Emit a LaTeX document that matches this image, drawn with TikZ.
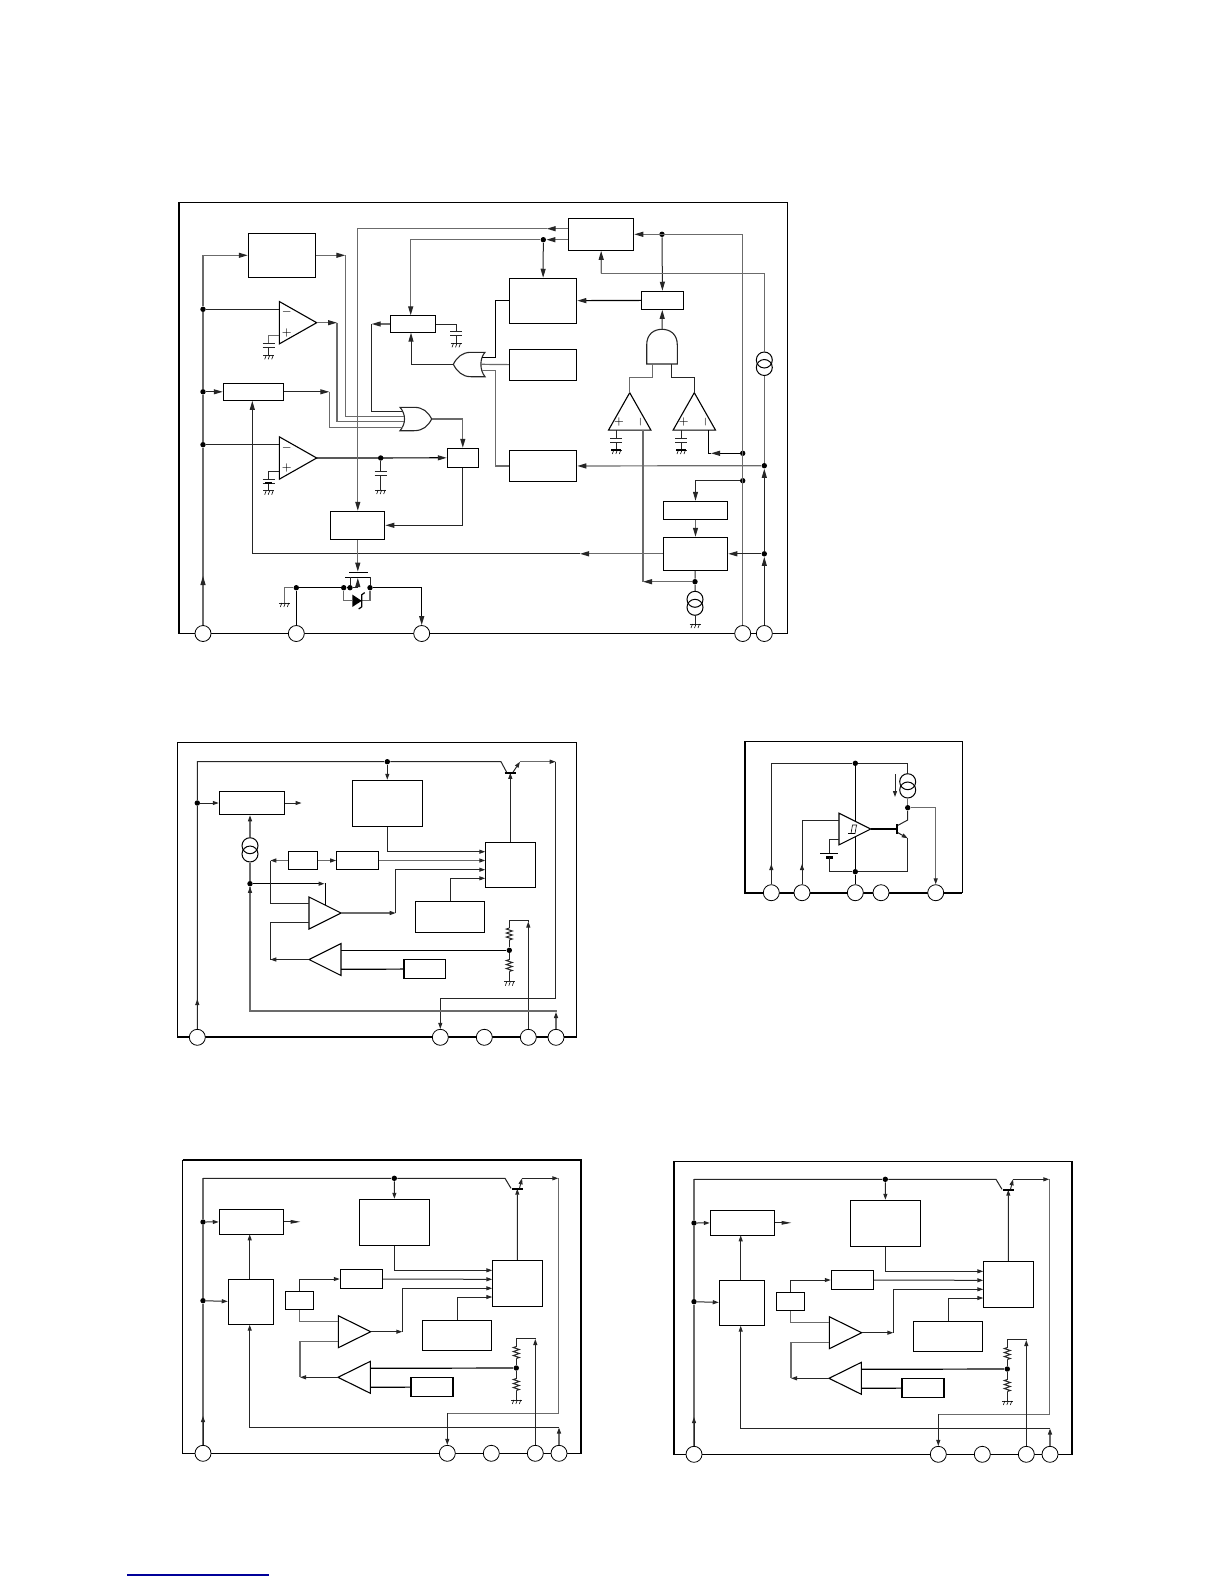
\documentclass[tikz,border=0pt]{standalone}
\usepackage{amsmath}
\usetikzlibrary{arrows.meta, shapes.geometric}
\tikzset{
  >={Stealth[length=4.5pt,width=2.5pt,inset=0pt,color=black!85]},
  smallar/.style={>={Stealth[length=3pt,width=2pt,inset=0pt,color=black!85]}},
  wire/.style={line width=.5pt, draw=black!85},
  wireg/.style={line width=.6pt, draw=black!58},
  wireb/.style={line width=.6pt, draw=black},
  frame/.style={line width=.65pt, draw=black},
  frameb/.style={line width=1pt, draw=black},
  blk/.style 2 args={draw, line width=.55pt, inner sep=0pt, minimum width=#1*.5pt, minimum height=#2*.5pt},
  padc/.style={draw, circle, fill=white, line width=.4pt, inner sep=0pt, minimum size=8pt},
  jn/.style={circle, fill=black, inner sep=0pt, minimum size=2.7pt},
  srcc/.style={draw, circle, line width=.5pt, inner sep=0pt, minimum size=8pt},
  amp/.style 2 args={draw, line width=.55pt, isosceles triangle, isosceles triangle stretches, inner sep=0pt, outer sep=0pt, anchor=apex, minimum width=#1*.5pt, minimum height=#2*.5pt},
  gatel/.style={line width=.55pt, draw=black!85},
  sgn/.style={font=\tiny, inner sep=0pt},
  gnd/.pic={\draw[wire] (-5.5,0) -- (5.5,0);
    \draw[line width=.3pt] (4.5,0) -- (3,4) (1,0) -- (-.5,4) (-2.5,0) -- (-4,4);},
  pics/capg/.style={code={\draw[wire] (-6,0) -- (6,0) (-6,4) -- (6,4) (0,4) -- (0,#1);
    \pic at (0,#1) {gnd};}},
  res/.pic={\draw[wire] (0,0) -- (-3,1) -- (3,3) -- (-3,5) -- (3,7) -- (-3,9) -- (3,11) -- (0,12);},
}
% the two panels at the bottom are the same circuit
\newcommand{\regpanel}[2]{
  \begin{scope}[shift={(#2)}, smallar]
    \draw[frame] (182.7,1160.3) rectangle (581,1453.3);
    \node[blk={70.4}{46}] (bx#1a) at (394.5,1222.3) {};
    \node[blk={64.4}{25}] (bx#1b) at (251.5,1221.8) {};
    \node[blk={45.4}{45.4}] (bx#1c) at (251,1302) {};
    \node[blk={28.4}{18.4}] (bx#1d) at (299.5,1300.5) {};
    \node[blk={42}{18.6}] (bx#1e) at (361.3,1279) {};
    \node[blk={50.4}{46.4}] (bx#1f) at (517.5,1283.5) {};
    \node[blk={69.4}{30}] (bx#1g) at (457,1335.3) {};
    \node[blk={42}{18.6}] (bx#1h) at (432,1387) {};
    \node[padc] (pd#1a) at (203,1453.3) {};
    \node[padc] (pd#1b) at (447.3,1453.3) {};
    \node[padc] (pd#1c) at (491.3,1453.3) {};
    \node[padc] (pd#1d) at (535.3,1453.3) {};
    \node[padc] (pd#1e) at (559,1453.3) {};
    \node[jn] (jn#1a) at (394.3,1178.3) {};
    \node[jn] (jn#1b) at (203,1222) {};
    \node[jn] (jn#1c) at (203,1300.7) {};
    \node[jn] (jn#1d) at (516.3,1368) {};
    \node[amp={32}{32.4}] (amp#1a) at (370.7,1331.7) {};
    \node[amp={32}{32.4}, shape border rotate=180] (amp#1b) at (338,1377.3) {};
    \coordinate (tr#1) at (517.3,1188.7);
    \coordinate (em#1) at (522,1178.3);
    \coordinate (ou#1) at (558.3,1178.3);
    \coordinate (ct#1a) at (492.3,1270.3);
    \coordinate (ct#1b) at (492.3,1279.3);
    \coordinate (ct#1c) at (492.3,1288.3);
    \coordinate (ct#1d) at (492.3,1297);
    \coordinate (bd#1a) at (402.3,1331.7);
    \coordinate (bd#1b) at (300,1377.3);
    \coordinate (in#1a) at (338.3,1321.7);
    \coordinate (in#1b) at (338.3,1341.3);
    \coordinate (in#1c) at (370.3,1368.3);
    \coordinate (in#1d) at (370.3,1387.3);
    \coordinate (ar#1a) at (203,1416);
    \coordinate (ar#1b) at (535.3,1339);
    \coordinate (ar#1c) at (559,1427.5);
    \coordinate (up#1a) at (249.7,1279.3);
    \coordinate (up#1b) at (249.7,1234.3);
    \coordinate (up#1c) at (249.7,1324.7);
    \draw[wireg] (pd#1a) -- (jn#1c) -- (jn#1b) -- (203,1178.3);
    \draw[wire,->] (pd#1a) -- (ar#1a);
    \draw[wire] (203,1178.3) -- (jn#1a) -- (505,1178.3) -- (511,1188.3);
    \draw[wire,->] (jn#1a) -- (bx#1a);
    \draw[wire,->] (jn#1b) -- (bx#1b);
    \draw[wire,->] (jn#1c) -- (bx#1c);
    \draw[wire,->, >={Stealth[length=5pt,width=1.8pt,inset=0pt]}] (bx#1b.east) -- ++(16.3,0);
    \draw[wire,->] (up#1a) -- (up#1b);
    \draw[wire,->] (ar#1c) -| (up#1c);
    \draw[wireg,->] (pd#1e) -- (ar#1c);
    \draw[wire,->] (bx#1a) |- (ct#1a);
    \draw[wire,->] (bx#1e) -- (ct#1b);
    \draw[wire,->] (bd#1a) |- (ct#1c);
    \draw[wire,->] (bx#1g) |- (ct#1d);
    \draw[wire,->] (bx#1d.north) |- (bx#1e);
    \draw[wireg] (bx#1d.south) |- (in#1a);
    \draw[wire,->] (amp#1a.apex) -- (bd#1a);
    \draw[wireg] (in#1b) -| (bd#1b);
    \draw[wire,->] (amp#1b.apex) -- (bd#1b);
    \draw[wireb] (in#1c) -- (jn#1d);
    \draw[wireb] (in#1d) -- (bx#1h);
    \draw[wire,->] (bx#1f) -- (tr#1);
    \draw[line width=1pt] (511.5,1188.7) -- (523,1188.7);
    \draw[wire,->] (519.5,1188.3) -- (em#1);
    \draw[wire,->] (em#1) -- (ou#1);
    \draw[wireg] (ou#1) |- (447.3,1413.3);
    \draw[wire,->] (447.3,1413.3) -- (pd#1b);
    \draw[wire,->] (pd#1d) -- (ar#1b);
    \draw[wire] (ar#1b) -- (535.3,1338.3) -| (516.3,1346.5);
    \pic at (516.3,1346.5) {res};
    \draw[wire] (516.3,1358.5) -- (jn#1d) -- (516.3,1378.5);
    \pic at (516.3,1378.5) {res};
    \draw[wire] (516.3,1390.5) -- (516.3,1400);
    \pic at (516.3,1400) {gnd};
  \end{scope}
}

\begin{document}
\begin{tikzpicture}[x=.5pt, y=-.5pt]
  \useasboundingbox (0,0) rectangle (1224,1584);

  % top panel
  \draw[frame] (178.7,202.7) rectangle (787.3,633.5);
  \draw[frameb] (178.7,202.7) -- (178.7,633.5);
  \node[blk={67.4}{44}] (bxAa) at (282,255.3) {};
  \node[blk={60}{17}] (bxAb) at (253.3,391.8) {};
  \node[blk={45.4}{17.4}] (bxAc) at (413,324) {};
  \node[blk={54}{28}] (bxAd) at (357.8,525.3) {};
  \node[blk={65.4}{32}] (bxAe) at (601,234.3) {};
  \node[blk={31}{19}] (bxAf) at (462.8,457.8) {};
  \node[blk={64.4}{33}] (bxAg) at (695.5,553.8) {};
  \node[blk={67.4}{45}] (bxAh) at (543,300.8) {};
  \node[blk={67.4}{31.4}] (bxAi) at (543,365) {};
  \node[blk={67.4}{31.4}] (bxAj) at (543,466) {};
  \node[blk={42.4}{18}] (bxAk) at (662.5,300.3) {};
  \node[blk={64.4}{18}] (bxAl) at (695.5,510.3) {};
  \node[padc] (pdAa) at (203,633.5) {};
  \node[padc] (pdAb) at (296.3,633.5) {};
  \node[padc] (pdAc) at (421.7,633.5) {};
  \node[padc] (pdAd) at (742.7,633.5) {};
  \node[padc] (pdAe) at (764.3,633.5) {};
  \node[jn] (jnAa) at (203,309.3) {};
  \node[jn] (jnAb) at (203,391.8) {};
  \node[jn] (jnAc) at (203,444.7) {};
  \node[jn] (jnAd) at (380.7,458) {};
  \node[jn] (jnAe) at (543.3,239.7) {};
  \node[jn] (jnAf) at (662,234.3) {};
  \node[jn] (jnAg) at (764.3,465.7) {};
  \node[jn] (jnAh) at (764.3,553.8) {};
  \node[jn] (jnAi) at (742.7,453.3) {};
  \node[jn] (jnAj) at (742.7,480.7) {};
  \node[jn] (jnAk) at (695,581.7) {};
  \node[jn] (jnAl) at (296.3,587.7) {};
  \node[jn] (jnAm) at (343.7,587.7) {};
  \node[jn] (jnAn) at (350,587.7) {};
  \node[jn] (jnAo) at (370,587.7) {};
  \node[srcc] (csAa) at (764.3,360) {};
  \node[srcc] (csAb) at (764.3,367.5) {};
  \node[srcc] (csAc) at (695,599.3) {};
  \node[srcc] (csAd) at (695,607.3) {};
  \node[amp={42.4}{37.4}] (ampAa) at (316.7,322.7) {};
  \node[amp={42.4}{37.4}] (ampAb) at (316.7,458) {};
  \node[amp={42.4}{37.4}, shape border rotate=90] (ampAc) at (629.7,392.7) {};
  \node[amp={42.4}{37.4}, shape border rotate=90] (ampAd) at (694.3,392.7) {};
  \node[sgn] (mnAa) at (286.7,312.3) {$-$};
  \node[sgn] (plAa) at (286.7,333.3) {$+$};
  \node[sgn] (mnAb) at (286.7,447.7) {$-$};
  \node[sgn] (plAb) at (286.7,468.3) {$+$};
  \node[sgn] (plAc) at (619,422.3) {$+$};
  \node[sgn, rotate=90] (mnAc) at (640.3,422.3) {$-$};
  \node[sgn] (plAd) at (683.7,422.3) {$+$};
  \node[sgn, rotate=90] (mnAd) at (705.3,422.3) {$-$};
  % gates
  \draw[gatel] (400,407.3) -- (414,407.3) .. controls (423,407.3) and (428,412) .. (431.7,419) .. controls (428,426) and (423,430.7) .. (414,430.7) -- (400,430.7) .. controls (406,424) and (406,414) .. (400,407.3) -- cycle;
  \draw[gatel] (485,352.3) -- (471,352.3) .. controls (462,352.3) and (457,357.3) .. (453.3,364.3) .. controls (457,371.3) and (462,376.7) .. (471,376.7) -- (485,376.7) .. controls (479.5,370) and (479.5,358.5) .. (485,352.3) -- cycle;
  \draw[gatel] (646.7,364) -- (646.7,345) .. controls (646.7,334) and (654,329.3) .. (662,329.3) .. controls (670,329.3) and (677.3,334) .. (677.3,345) -- (677.3,364) -- cycle;
  \coordinate (orAa) at (402.6,411.3);
  \coordinate (orAb) at (404,416.7);
  \coordinate (orAc) at (404,421.7);
  \coordinate (orAd) at (402.6,427.3);
  \coordinate (orAo) at (431.7,419);
  \coordinate (orBa) at (482,357.3);
  \coordinate (orBb) at (480.8,364.3);
  \coordinate (orBc) at (482,370.7);
  \coordinate (orBo) at (453.3,364.3);
  \coordinate (anAa) at (652.3,364);
  \coordinate (anAb) at (671.3,364);
  \coordinate (anAo) at (662,329.3);
  \coordinate (arAa) at (345.3,255.3);
  \coordinate (arAb) at (337,322.7);
  \coordinate (arAc) at (329.3,391.8);
  \coordinate (arAd) at (371.7,324);
  \coordinate (arAe) at (546.7,228.7);
  \coordinate (arAf) at (580,553.8);
  \coordinate (arAg) at (711,453.3);
  \coordinate (arAh) at (643,581.7);
  \coordinate (arAi) at (357.8,571.6);
  \coordinate (arAj) at (357.8,578);
  \coordinate (arAk) at (203,576);
  \coordinate (bnAa) at (601.3,273.3);
  \coordinate (bnAb) at (495.3,300.8);
  \coordinate (bnAc) at (495.3,466);
  \coordinate (inAa) at (410.7,315.3);
  \coordinate (inAb) at (411,332.7);
  \coordinate (inAc) at (708.3,430);
  \coordinate (inAd) at (643,430);
  \coordinate (inAe) at (279.3,335.7);
  \coordinate (inAf) at (279.3,471.7);
  % left rail and the or gate
  \draw[wireg] (pdAa) -- (jnAc) -- (jnAb) -- (jnAa);
  \draw[wireg,->] (pdAa) -- (arAk);
  \draw[wireg,->] (jnAa) |- (bxAa);
  \draw[wire] (jnAa) -- (jnAa -| ampAa.lower side);
  \draw[wire] (jnAc) -- (jnAc -| ampAb.lower side);
  \draw[wire,->] (jnAb) -- (bxAb);
  \draw[wireg] (inAe) -| (268.7,343.3);
  \pic at (268.7,343.3) {capg=12};
  \draw[wire] (inAf) -| (268.7,479.3);
  \pic at (268.7,479.3) {capg=11.4};
  \draw[line width=1.1pt] (265,483.3) -- (272.4,483.3);
  \draw[wireg,->] (bxAa) -- (arAa);
  \draw[wireg] (arAa) |- (orAb);
  \draw[wireg,->] (ampAa.apex) -- (arAb);
  \draw[wireg] (arAb) |- (orAc);
  \draw[wire,->] (bxAb) -- (arAc);
  \draw[wireg] (arAc) |- (orAd);
  \draw[wireg,->] (bxAc) -- (arAd);
  \draw[wire] (arAd) |- (orAa);
  \draw[wireg,->] (orAo) -| (bxAf);
  \draw[wireb,->] (ampAb.apex) -- (bxAf);
  \draw[wire] (jnAd) -- (380.7,471.7);
  \pic at (380.7,471.7) {capg=18.3};
  \draw[wire,->] (bxAf) |- (bxAd);
  \draw[wire] (bxAc) -| (456,331.3);
  \pic at (456,331.3) {capg=12};
  % upper right part
  \draw[wireg,->] (bxAe.west |- arAe) -- (arAe);
  \draw[wireg,->] (arAe) -| (bxAd);
  \draw[wireg,->] (bxAe.west |- jnAe) -- (jnAe);
  \draw[wireg,->] (jnAe) -| (inAa);
  \draw[wire,->] (jnAe) -- (bxAh);
  \draw[wireg,->] (pdAd) |- (bxAe);
  \draw[wire,->] (jnAf) -- (bxAk);
  \draw[wireb,->] (bxAk) -- (bxAh);
  \draw[wire,->] (anAo) -- (bxAk);
  \draw[wireg] (anAa) |- (629.7,377.3) -- (ampAc.apex);
  \draw[wire] (anAb) |- (694.3,377.3) -- (ampAd.apex);
  \draw[wire,->] (orBo) -| (inAb);
  \draw[wireb] (orBa) -| (bnAb) -- (bxAh);
  \draw[wireg] (orBb) -- (bxAi);
  \draw[wireg] (orBc) -| (bnAc) -- (bxAj);
  \pic at (616.3,438.3) {capg=11.7};
  \draw[wire] (616.3,430) -- (616.3,438.3);
  \draw[line width=1pt] (611.3,450) -- (621.3,450);
  \pic at (681,438.3) {capg=11.7};
  \draw[wire] (681,430) -- (681,438.3);
  \draw[line width=1pt] (676,450) -- (686,450);
  % right rails
  \draw[wire,->] (pdAe) -- (jnAh);
  \draw[wire,->] (jnAh) -- (jnAg);
  \draw[wireg] (jnAg) -- (csAb);
  \draw[wireg] (csAa) |- (bnAa);
  \draw[wireg,->] (bnAa) -- (bxAe);
  \draw[wireg,->] (jnAg) -- (bxAj);
  \draw[wire,->] (jnAh) -- (bxAg);
  \draw[wireb,->] (jnAi) -- (arAg);
  \draw[wireb] (arAg) -| (inAc);
  \draw[wire,->] (jnAj) -| (bxAl);
  \draw[wireg,->] (bxAl) -- (bxAg);
  \draw[wire] (bxAg) -- (jnAk) -- (csAc);
  \draw[wire] (csAd) -- (695,624);
  \pic at (695,624) {gnd};
  \draw[wireg,->] (jnAk) -- (arAh);
  \draw[wireg] (arAh) -- (inAd);
  \draw[wireg,->] (bxAg) -- (arAf);
  \draw[wire] (arAf) -| (252.3,553.8);
  \draw[wire,->] (252.3,553.8) -- (bxAb.south -| 252.3,0);
  % output switch
  \draw[wireg,->] (bxAd) -- (arAi);
  \draw[wireb] (349,572.3) -- (368,572.3) (345,577.3) -- (371,577.3);
  \draw[wire] (350,577.3) -- (jnAn) (370,577.3) -- (jnAo);
  \draw[wireb] (pdAb) -- (jnAl) -- (jnAm) -- (jnAn);
  \draw[wire,->] (jnAn) -| (arAj);
  \draw[wireb,->] (jnAo) -| (pdAc);
  \draw[wireg] (jnAl) -| (284.3,603);
  \pic at (284.3,603) {gnd};
  \draw[wireg] (jnAm) |- (352.3,600.8);
  \draw[wireg] (361.7,600.8) -| (jnAo);
  \fill (352.3,594.6) -- (352.3,607) -- (361.7,600.8) -- cycle;
  \draw[wireb] (364.7,592.6) -- (361.7,594.8) -- (361.7,606.8) -- (358.7,609);

  % middle left panel
  \begin{scope}[smallar]
    \draw[frame] (177.7,742.7) rectangle (576.7,1037.3);
    \draw[frameb] (177.7,1037.3) -- (576.7,1037.3);
    \node[blk={70}{46.4}] (bxBa) at (387.3,803.5) {};
    \node[blk={65.4}{23.4}] (bxBb) at (252,803) {};
    \node[blk={28.7}{18.4}] (bxBc) at (302.7,860.5) {};
    \node[blk={42}{18.4}] (bxBd) at (357.7,860.5) {};
    \node[blk={50}{45}] (bxBe) at (510.3,864.8) {};
    \node[blk={69.4}{31}] (bxBf) at (450,916.8) {};
    \node[blk={41.7}{18.6}] (bxBg) at (424.8,969) {};
    \node[padc] (pdBa) at (197.3,1037.3) {};
    \node[padc] (pdBb) at (440.3,1037.3) {};
    \node[padc] (pdBc) at (484.3,1037.3) {};
    \node[padc] (pdBd) at (528.3,1037.3) {};
    \node[padc] (pdBe) at (556,1037.3) {};
    \node[jn] (jnBa) at (387.3,761.7) {};
    \node[jn] (jnBb) at (197.3,803) {};
    \node[jn] (jnBc) at (250,883.7) {};
    \node[jn] (jnBd) at (509.3,950.3) {};
    \node[srcc] (csBa) at (250,845.7) {};
    \node[srcc] (csBb) at (250,854) {};
    \node[amp={32}{32}] (ampBa) at (341,913) {};
    \node[amp={32}{32}, shape border rotate=180] (ampBb) at (309,959.5) {};
    \coordinate (trB) at (510.3,772.8);
    \coordinate (emB) at (520,761.7);
    \coordinate (ouB) at (555.7,761.7);
    \coordinate (ctBa) at (485.3,851.7);
    \coordinate (ctBb) at (485.3,860.5);
    \coordinate (ctBc) at (485.3,869.7);
    \coordinate (ctBd) at (485.3,878.3);
    \coordinate (bdBa) at (395.7,913);
    \coordinate (bdBb) at (270.3,959.5);
    \coordinate (bdBc) at (270.3,860.5);
    \coordinate (bdBd) at (324.5,883.7);
    \coordinate (inBa) at (309,903.3);
    \coordinate (inBb) at (309,922.3);
    \coordinate (inBc) at (341,950.3);
    \coordinate (inBd) at (341,969.3);
    \coordinate (inBe) at (325.7,905);
    \coordinate (arBa) at (197.3,999);
    \coordinate (arBb) at (528.3,921.5);
    \coordinate (arBc) at (556,1012);
    \draw[wire] (pdBa) -- (jnBb) -- (197.3,761.7) -- (jnBa) -- (501,761.7) -- (506.5,772);
    \draw[wire,->] (pdBa) -- (arBa);
    \draw[wire,->] (jnBa) -- (bxBa);
    \draw[wire,->] (jnBb) -- (bxBb);
    \draw[wire,->] (bxBb.east) -- ++(16.3,0);
    \draw[wireg,->] (csBa.north) -- (bxBb.south -| csBa);
    \draw[wireg] (jnBc) -- (csBb);
    \draw[wireb,->] (jnBc) -- (bdBd);
    \draw[wireb] (bdBd) -| (inBe);
    \draw[wire,->] (bxBa) |- (ctBa);
    \draw[wireg,->] (bxBd) -- (ctBb);
    \draw[wireg,->] (bxBc) -- (bxBd);
    \draw[wireg,->] (bxBc) -- (bdBc);
    \draw[wire] (bdBc) |- (inBa);
    \draw[wireg,->] (ampBa.apex) -- (bdBa);
    \draw[wire,->] (bdBa) |- (ctBc);
    \draw[wire,->] (bxBf) |- (ctBd);
    \draw[wire,->] (ampBb.apex) -- (bdBb);
    \draw[wire] (bdBb) |- (inBb);
    \draw[wireb] (inBc) -- (jnBd);
    \draw[wireb] (inBd) -- (bxBg);
    \draw[wire,->] (bxBe) -- (trB);
    \draw[line width=1pt] (504.5,772.5) -- (515.7,772.5);
    \draw[wire,->] (513,772.2) -- (emB);
    \draw[wireg,->] (emB) -- (ouB);
    \draw[wire] (ouB) |- (440.3,998.3);
    \draw[wire,->] (440.3,998.3) -- (pdBb);
    \draw[wire,->] (pdBd) -- (arBb);
    \draw[wire] (arBb) -- (528.3,920.7) -| (509.3,928);
    \pic at (509.3,928) {res};
    \draw[wire] (509.3,940) -- (jnBd) -- (509.3,959.5);
    \pic at (509.3,959.5) {res};
    \draw[wire] (509.3,971.5) -- (509.3,981.7);
    \pic at (509.3,981.7) {gnd};
    \draw[wireg,->] (pdBe) -- (arBc);
    \draw[wireg] (arBc) -- (556,1011) -| (jnBc);
    \draw[wireg,->] (250,1011) -- (jnBc);
  \end{scope}

  % middle right panel
  \begin{scope}[smallar]
    \draw[frame] (744.7,741.7) rectangle (962.3,892.7);
    \draw[frameb] (744.7,741.7) |- (962.3,892.7);
    \node[padc] (pdCa) at (771.3,892.7) {};
    \node[padc] (pdCb) at (802,892.7) {};
    \node[padc] (pdCc) at (855.3,892.7) {};
    \node[padc] (pdCd) at (881,892.7) {};
    \node[padc] (pdCe) at (935.7,892.7) {};
    \node[jn] (jnCa) at (855.3,763.3) {};
    \node[jn] (jnCb) at (855.3,871.7) {};
    \node[jn] (jnCc) at (907.7,807.7) {};
    \node[srcc] (csCa) at (907.7,781.7) {};
    \node[srcc] (csCb) at (907.7,790) {};
    \node[amp={31.7}{31.7}] (ampCa) at (870.7,829) {};
    \coordinate (inCa) at (839,820);
    \coordinate (inCb) at (839,839);
    \coordinate (arCa) at (771.3,864);
    \coordinate (arCb) at (802,864);
    \coordinate (arCc) at (895,774);
    \coordinate (arCd) at (895,797);
    \coordinate (trCc) at (907.7,820);
    \coordinate (trCe) at (907.7,838.3);
    \coordinate (trCb) at (896.7,829);
    \draw[wire] (pdCa) |- (jnCa) -| (csCa);
    \draw[wire,->] (pdCa) -- (arCa);
    \draw[wireb] (jnCa) -- (855.3,822);
    \draw[wireb] (855.3,836) -- (jnCb) -- (pdCc);
    \draw[wire] (pdCb) |- (inCa);
    \draw[wire,->] (pdCb) -- (arCb);
    \draw[wire] (inCb) -| (829.3,853.3);
    \draw[wireb] (820.3,853.3) -- (838.3,853.3);
    \draw[line width=1.2pt] (826,857.3) -- (832.6,857.3);
    \draw[wire] (829.3,857.3) |- (jnCb) -- (907.7,871.7) -- (trCe);
    \draw[wire,->] (896.7,832) -- (trCe);
    \draw[wireg] (csCb) -- (jnCc);
    \draw[wire] (jnCc) -- (trCc) -- (896.7,826);
    \draw[wire,->] (arCc) -- (arCd);
    \draw[wireg,->] (jnCc) -| (pdCe);
    \draw[wireb] (ampCa.apex) -- (trCb);
    \draw[line width=1pt] (896.7,824.3) -- (896.7,834.3);
    \draw[line width=.3pt] (848,833.5) -- (851,833.5) -- (852.5,825) -- (857,825) (850.5,833.5) -- (855,833.5) -- (856.5,825);
  \end{scope}

  % lower panels
  \regpanel{D}{0,0}
  \regpanel{E}{491,1}
  \draw[frameb] (182.7,1160.3) -| (581,1453.3);
  \draw[frameb] (673.7,1161.3) -- (673.7,1454.3) (1072,1161.3) -- (1072,1454.3);

  % blue rule at the foot of the page
  \coordinate (ruL) at (127,1575);
  \coordinate (ruR) at (269,1575);
  \draw[line width=.7pt, draw=blue!60!black] (ruL) -- (ruR);
\end{tikzpicture}
\end{document}
